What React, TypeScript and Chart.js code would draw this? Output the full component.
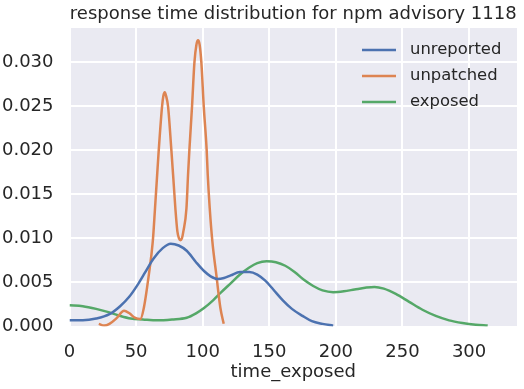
import React, { useEffect, useRef } from "react";
import { Chart, registerables } from "chart.js";

Chart.register(...registerables);

const TITLE = "response time distribution for npm advisory 1118";
const X_LABEL = "time_exposed";
const SERIES_NAMES = ["unreported", "unpatched", "exposed"];
const COLORS = ["#4C72B0", "#DD8452", "#55A868"];

const unreportedX = [0, 10, 20, 30, 38, 45, 51, 57, 63, 70, 76, 82, 88, 95, 101, 106, 111, 116, 121, 128, 135, 141, 147, 153, 160, 167, 175, 182, 190, 198];
const unreportedY = [0.0007, 0.0007, 0.0009, 0.0014, 0.0023, 0.0034, 0.0047, 0.0062, 0.0077, 0.0089, 0.0094, 0.0092, 0.0086, 0.0073, 0.0063, 0.0057, 0.0054, 0.0055, 0.0058, 0.0062, 0.0062, 0.0059, 0.0052, 0.0042, 0.003, 0.002, 0.0012, 0.0006, 0.0003, 0.0001];

const unpatchedX = [22, 26, 30, 35, 41, 45, 49, 53.2, 55.8, 59.5, 62.5, 64.2, 65.8, 67, 69.5, 70.5, 71.5, 72.5, 74, 76.5, 77.8, 79.5, 81, 82.2, 83.3, 84.4, 85.5, 87.8, 89, 90, 92, 93.8, 95.3, 96.5, 97.7, 99, 100.8, 103, 103.8, 105.3, 107.3, 110.3, 113.3, 115.8];
const unpatchedY = [0.0003, 0.0001, 0.0003, 0.0009, 0.0018, 0.0015, 0.001, 0.00085, 0.0021, 0.0058, 0.0096, 0.0134, 0.0172, 0.02, 0.025, 0.0262, 0.0266, 0.0262, 0.025, 0.02, 0.0172, 0.0134, 0.0108, 0.0100, 0.0098, 0.0100, 0.0108, 0.0134, 0.0172, 0.02, 0.025, 0.03, 0.0320, 0.0325, 0.0320, 0.03, 0.025, 0.02, 0.0172, 0.0134, 0.0096, 0.0058, 0.0021, 0.0003];

const exposedX = [0, 10, 20, 30, 38, 46, 55, 66, 77, 88, 95, 101, 108, 114, 121, 128, 135, 141, 148, 155, 162, 169, 176, 183, 190, 198, 206, 214, 222, 229, 236, 245, 255, 265, 275, 285, 295, 305, 314];
const exposedY = [0.0024, 0.0023, 0.002, 0.0016, 0.0012, 0.0009, 0.0008, 0.0007, 0.0008, 0.001, 0.0015, 0.0021, 0.003, 0.0039, 0.0049, 0.0059, 0.0067, 0.0072, 0.0074, 0.0073, 0.0069, 0.0062, 0.0053, 0.0046, 0.0041, 0.0039, 0.004, 0.0042, 0.0044, 0.0045, 0.0043, 0.0037, 0.0028, 0.0019, 0.0012, 0.0007, 0.0004, 0.0002, 0.0001];

const X_MIN = 0;
const X_MAX = 336;
const Y_MIN = 0;
const Y_MAX = 0.0339;

const FONT = "'DejaVu Sans', sans-serif";
const TEXT = "#262626";

function pts(xs: number[], ys: number[]) {
  return xs.map((x, i) => ({ x, y: ys[i] }));
}

const decorPlugin = {
  id: "decor",
  beforeDraw(chart: any) {
    const { ctx, chartArea } = chart;
    ctx.save();
    ctx.fillStyle = "#EAEAF2";
    ctx.fillRect(chartArea.left, chartArea.top, chartArea.right - chartArea.left, chartArea.bottom - chartArea.top);
    ctx.restore();
  },
  afterDraw(chart: any) {
    const { ctx, chartArea } = chart;
    ctx.save();
    ctx.fillStyle = TEXT;
    ctx.textAlign = "center";
    ctx.textBaseline = "middle";
    ctx.font = `18px ${FONT}`;
    ctx.fillText(TITLE, (chartArea.left + chartArea.right) / 2, 14);
    ctx.fillText(X_LABEL, (chartArea.left + chartArea.right) / 2, 372);
    // legend
    ctx.font = `16.4px ${FONT}`;
    ctx.textAlign = "left";
    const lx = 362;
    const ly = [50, 76, 102];
    SERIES_NAMES.forEach((name, i) => {
      ctx.strokeStyle = COLORS[i];
      ctx.lineWidth = 2.5;
      ctx.beginPath();
      ctx.moveTo(lx, ly[i]);
      ctx.lineTo(lx + 34, ly[i]);
      ctx.stroke();
      ctx.fillStyle = TEXT;
      ctx.fillText(name, lx + 48, ly[i]);
    });
    ctx.restore();
  },
};

export default function App() {
  const ref = useRef<HTMLCanvasElement>(null);
  useEffect(() => {
    if (!ref.current) return;
    const series = [pts(unreportedX, unreportedY), pts(unpatchedX, unpatchedY), pts(exposedX, exposedY)];
    const chart = new Chart(ref.current, {
      type: "line",
      data: {
        datasets: series.map((d, i) => ({
          label: SERIES_NAMES[i],
          data: d,
          borderColor: COLORS[i],
          backgroundColor: COLORS[i],
          borderWidth: 2.5,
          pointRadius: 0,
          cubicInterpolationMode: "monotone" as const,
          fill: false,
        })),
      },
      options: {
        animation: false,
        responsive: false,
        layout: { padding: { top: 28, right: 7, left: 0, bottom: 0 } },
        plugins: { legend: { display: false }, tooltip: { enabled: false }, title: { display: false } },
        scales: {
          x: {
            type: "linear",
            min: X_MIN,
            max: X_MAX,
            border: { display: false },
            grid: { color: "#FFFFFF", lineWidth: 2, drawTicks: false },
            ticks: { stepSize: 50, includeBounds: false, padding: 15, color: TEXT, font: { size: 18, family: FONT } },
            afterFit(scale: any) { scale.height = 62.5; },
          },
          y: {
            type: "linear",
            min: Y_MIN,
            max: Y_MAX,
            border: { display: false },
            grid: { color: "#FFFFFF", lineWidth: 2, drawTicks: false },
            ticks: {
              stepSize: 0.005,
              includeBounds: false,
              padding: 16,
              color: TEXT,
              font: { size: 18, family: FONT },
              callback: (v: any) => Number(v).toFixed(3),
            },
            afterFit(scale: any) { scale.width = 69.5; },
          },
        },
      },
      plugins: [decorPlugin],
    });
    return () => chart.destroy();
  }, []);
  return (
    <div style={{ position: "fixed", left: 0, top: 0, width: 524, height: 389, background: "#fff" }}>
      <canvas ref={ref} width={524} height={389} style={{ width: 524, height: 389, display: "block" }} />
    </div>
  );
}
